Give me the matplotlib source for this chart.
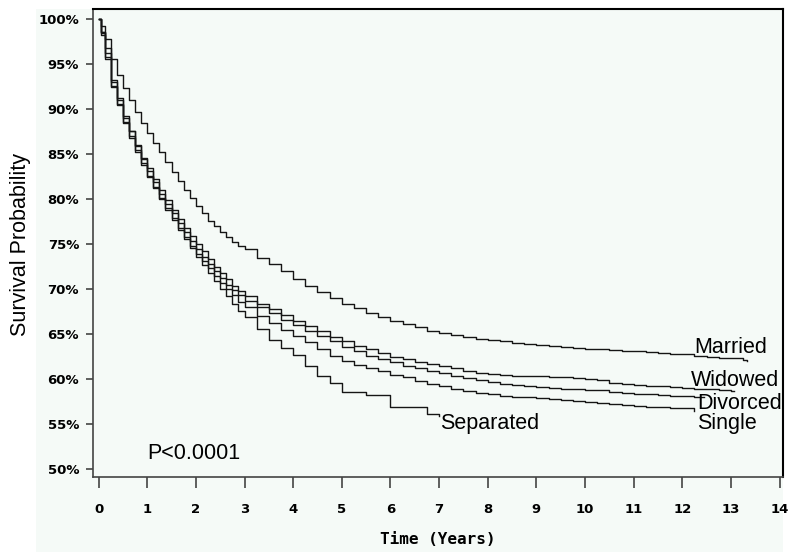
import matplotlib
matplotlib.use("Agg")
import matplotlib.pyplot as plt
from matplotlib.patches import Rectangle

# ---------------- data ----------------
years = [0, 0.04, 0.125, 0.25, 0.375, 0.5, 0.625, 0.75, 0.875,
         1, 1.125, 1.25, 1.375, 1.5, 1.625, 1.75, 1.875,
         2, 2.125, 2.25, 2.375, 2.5, 2.625, 2.75, 2.875,
         3, 3.25, 3.5, 3.75, 4, 4.25, 4.5, 4.75,
         5, 5.25, 5.5, 5.75, 6, 6.25, 6.5, 6.75,
         7, 7.25, 7.5, 7.75, 8, 8.25, 8.5, 8.75,
         9, 9.25, 9.5, 9.75, 10, 10.25, 10.5, 10.75,
         11, 11.25, 11.5, 11.75, 12, 12.25, 12.5, 12.75,
         13, 13.25]

married = [100, 99.2, 97.8, 95.6, 93.8, 92.3, 91.0, 89.7, 88.4,
           87.3, 86.2, 85.2, 84.1, 83.0, 82.0, 81.0, 80.1,
           79.2, 78.4, 77.6, 77.0, 76.3, 75.8, 75.2, 74.8,
           74.4, 73.5, 72.8, 72.0, 71.1, 70.4, 69.7, 69.0,
           68.4, 67.9, 67.4, 66.9, 66.5, 66.1, 65.8, 65.4,
           65.1, 64.9, 64.7, 64.5, 64.35, 64.2, 64.0, 63.9,
           63.8, 63.7, 63.6, 63.5, 63.4, 63.3, 63.25, 63.15,
           63.1, 63.0, 62.9, 62.8, 62.75, 62.6, 62.5, 62.4,
           62.3, 62.1]

widowed = [100, 98.6, 96.8, 93.2, 91.0, 89.0, 87.6, 86.0, 84.6,
           83.4, 82.2, 81.0, 79.9, 78.8, 77.8, 76.8, 75.9,
           75.0, 74.2, 73.3, 72.5, 71.8, 71.1, 70.4, 69.8,
           69.2, 68.4, 67.8, 67.1, 66.5, 65.9, 65.3, 64.7,
           64.2, 63.7, 63.3, 62.9, 62.5, 62.2, 61.9, 61.7,
           61.45, 61.2, 60.9, 60.7, 60.6, 60.5, 60.4, 60.35,
           60.3, 60.25, 60.2, 60.1, 60.0, 59.9, 59.55, 59.5,
           59.4, 59.25, 59.2, 59.1, 59.0, 58.95, 58.9, 58.8,
           58.73]

divorced = [100, 98.4, 96.2, 93.0, 91.2, 89.2, 87.5, 85.9, 84.4,
            83.1, 81.9, 80.6, 79.5, 78.4, 77.3, 76.3, 75.3,
            74.4, 73.6, 72.8, 72.0, 71.2, 70.5, 69.9, 69.3,
            68.7, 68.0, 67.3, 66.6, 66.0, 65.4, 64.8, 64.2,
            63.6, 63.1, 62.6, 62.2, 61.9, 61.5, 61.2, 60.9,
            60.7, 60.4, 60.1, 59.9, 59.7, 59.5, 59.35, 59.25,
            59.1, 59.0, 58.95, 58.9, 58.85, 58.8, 58.6, 58.45,
            58.4, 58.3, 58.2, 58.15, 58.1, 58.07]

single = [100, 98.2, 95.6, 92.6, 90.6, 88.6, 87.0, 85.4, 84.0,
          82.6, 81.3, 80.1, 79.0, 77.9, 76.8, 75.8, 74.8,
          73.9, 73.1, 72.3, 71.5, 70.7, 70.0, 69.3, 68.6,
          68.0, 67.0, 66.2, 65.5, 64.8, 64.1, 63.4, 62.6,
          62.0, 61.6, 61.2, 60.9, 60.5, 60.2, 59.8, 59.5,
          59.2, 58.9, 58.65, 58.45, 58.3, 58.15, 58.07, 58.05,
          57.95, 57.8, 57.7, 57.55, 57.45, 57.35, 57.25, 57.1,
          57.0, 56.95, 56.9, 56.85, 56.8]

separated = [100, 98.5, 95.8, 92.4, 90.4, 88.4, 86.8, 85.2, 83.8,
             82.4, 81.2, 80.0, 78.8, 77.7, 76.6, 75.6, 74.6,
             73.6, 72.7, 71.8, 70.9, 70.0, 69.2, 68.4, 67.6,
             66.9, 65.6, 64.4, 63.5, 62.7, 61.5, 60.4, 59.55,
             58.55, 58.55, 58.26, 58.26, 56.96, 56.96, 56.96, 56.14]

groups = ["Married", "Widowed", "Divorced", "Single", "Separated"]
series = [married, widowed, divorced, single, separated]
end_years = [13.33, 13.07, 12.45, 12.24, 7.0]
end_values = [62.05, 58.7, 58.05, 56.5, 55.9]

x_ticks = list(range(0, 15))
y_ticks = [50, 55, 60, 65, 70, 75, 80, 85, 90, 95, 100]
y_tick_labels = [f"{v}%" for v in y_ticks]
p_value_text = "P<0.0001"

# ---------------- figure ----------------
W, H = 788, 552
bg = "#f5faf7"
fig = plt.figure(figsize=(W / 100, H / 100), dpi=100)
fig.patch.set_facecolor("white")
bg_rect = Rectangle((36 / W, 0), (783 - 36) / W, (H - 9) / H,
                    transform=fig.transFigure, facecolor=bg,
                    edgecolor="none", zorder=-10)
fig.patches.append(bg_rect)

ax = fig.add_axes([93 / W, 1 - 477 / H, (783 - 93) / W, (477 - 9) / H])
ax.set_zorder(1)
ax.set_facecolor(bg)

for vals, ex, ev in zip(series, end_years, end_values):
    xs = years[:len(vals)] + [ex]
    ys = vals + [ev]
    ax.step(xs, ys, where="post", color="#151515", lw=1.0)

ax.set_xlim(-0.115, 14.07)
ax.set_ylim(49.14, 101.1)

tick_font = dict(family="DejaVu Sans", weight="bold", size=9.5)
ax.set_xticks(x_ticks)
ax.set_xticklabels([str(v) for v in x_ticks], **tick_font)
ax.set_yticks(y_ticks)
ax.set_yticklabels(y_tick_labels, **tick_font)
ax.tick_params(axis="x", direction="out", length=8, width=1.2, pad=11,
               color="#444444")
ax.tick_params(axis="y", direction="out", length=5, width=1.2, pad=5,
               color="#444444")

for s in ["left", "bottom"]:
    ax.spines[s].set_color("#444444")
    ax.spines[s].set_linewidth(1.2)
for s in ["top", "right"]:
    ax.spines[s].set_color("black")
    ax.spines[s].set_linewidth(1.5)

lab_font = dict(family=["Liberation Sans", "DejaVu Sans"], size=15.5,
                color="black")
label_pos = {"Married": (12.24, 62.96), "Widowed": (12.17, 59.26),
             "Divorced": (12.3, 56.73), "Single": (12.3, 54.44),
             "Separated": (7.01, 54.44)}
for g in groups:
    x, y = label_pos[g]
    ax.text(x, y, g, ha="left", va="baseline", **lab_font)
ax.text(1.0, 51.1, p_value_text, ha="left", va="baseline", **lab_font)

fig.text(438 / W, 1 - 540 / H, "Time (Years)", ha="center", va="center",
         family="DejaVu Sans Mono", weight="bold", size=11.5, zorder=5)
fig.text(21 / W, 1 - 245 / H, "Survival Probability", rotation=90,
         ha="center", va="center", family=["Liberation Sans", "DejaVu Sans"],
         size=15.5, zorder=5)

fig.savefig("out.png", dpi=100, facecolor="white")
